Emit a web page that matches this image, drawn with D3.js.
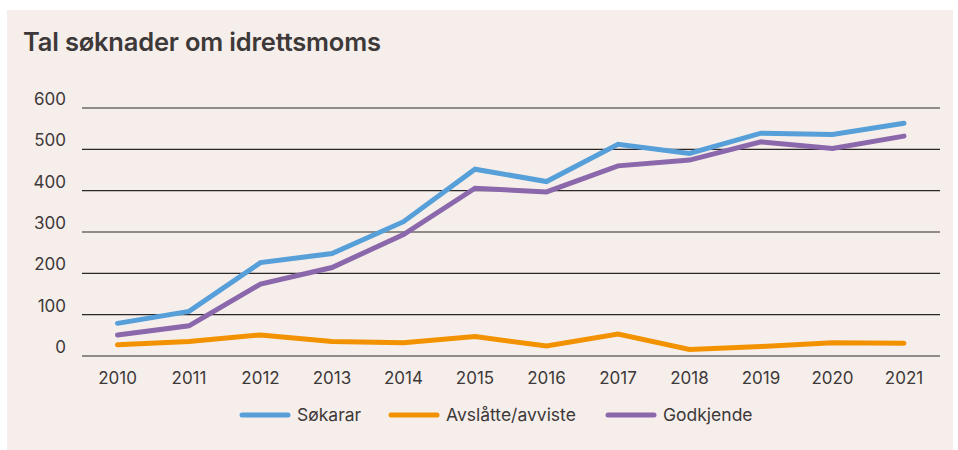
<!DOCTYPE html>
<html>
<head>
<meta charset="utf-8">
<script src="https://cdn.jsdelivr.net/npm/d3@7"></script>
<style>
  html, body { margin: 0; padding: 0; background: #fff; }
  svg { display: block; font-family: Inter, "Noto Sans", sans-serif; }
</style>
</head>
<body>
<div id="chart"></div>
<script>
const years = [2010, 2011, 2012, 2013, 2014, 2015, 2016, 2017, 2018, 2019, 2020, 2021];
const sokarar = [79, 108, 226, 248, 325, 452, 422, 512, 490, 539, 536, 563];
const avslatte = [27, 35, 51, 35, 32, 47, 24, 53, 16, 23, 32, 31];
const godkjende = [51, 73, 174, 214, 294, 406, 397, 460, 474, 518, 502, 532];
const yTicks = [0, 100, 200, 300, 400, 500, 600];

const series = [
  { name: "Søkarar", values: sokarar, color: "#569fd9" },
  { name: "Avslåtte/avviste", values: avslatte, color: "#f39200" },
  { name: "Godkjende", values: godkjende, color: "#8b67ab" }
];

const w = 958, h = 450;
const ink = "#3e3939";

const svg = d3.select("#chart")
  .append("svg")
  .attr("width", w)
  .attr("height", h);

svg.append("rect")
  .attr("x", 7).attr("y", 10)
  .attr("width", 946).attr("height", 440)
  .attr("fill", "#f6eeeb");

svg.append("text")
  .attr("x", 23).attr("y", 51)
  .attr("fill", ink)
  .style("font-size", "25.5px")
  .style("font-weight", 600)
  .style("letter-spacing", "-0.2px")
  .text("Tal søknader om idrettsmoms");

const x = d3.scalePoint()
  .domain(years)
  .range([117.5, 904]);

const y = d3.scaleLinear()
  .domain([0, 600])
  .range([356, 108]);

// gridlines
svg.append("g")
  .selectAll("line")
  .data(yTicks)
  .join("line")
  .attr("x1", 82).attr("x2", 940)
  .attr("y1", d => y(d)).attr("y2", d => y(d))
  .attr("stroke", "#2a2727")
  .attr("stroke-width", 1.2);

// y labels, sitting just above each gridline
svg.append("g")
  .selectAll("text")
  .data(yTicks)
  .join("text")
  .attr("x", 66)
  .attr("y", d => y(d) - 3)
  .attr("text-anchor", "end")
  .attr("fill", ink)
  .style("font-size", "17px")
  .text(d => d);

// x labels
svg.append("g")
  .selectAll("text")
  .data(years)
  .join("text")
  .attr("x", d => x(d))
  .attr("y", 384)
  .attr("text-anchor", "middle")
  .attr("fill", ink)
  .style("font-size", "17px")
  .text(d => d);

const line = d3.line()
  .x((d, i) => x(years[i]))
  .y(d => y(d));

svg.append("g")
  .selectAll("path")
  .data(series)
  .join("path")
  .attr("d", d => line(d.values))
  .attr("fill", "none")
  .attr("stroke", d => d.color)
  .attr("stroke-width", 5)
  .attr("stroke-linejoin", "miter")
  .attr("stroke-linecap", "round");

// legend
const legendX = [242, 391, 608];
const legend = svg.append("g")
  .selectAll("g")
  .data(series)
  .join("g")
  .attr("transform", (d, i) => `translate(${legendX[i]},415)`);

legend.append("line")
  .attr("x1", 0).attr("x2", 46)
  .attr("stroke", d => d.color)
  .attr("stroke-width", 5)
  .attr("stroke-linecap", "round");

legend.append("text")
  .attr("x", 55)
  .attr("y", 6)
  .attr("fill", ink)
  .style("font-size", "17.5px")
  .text(d => d.name);
</script>
</body>
</html>
